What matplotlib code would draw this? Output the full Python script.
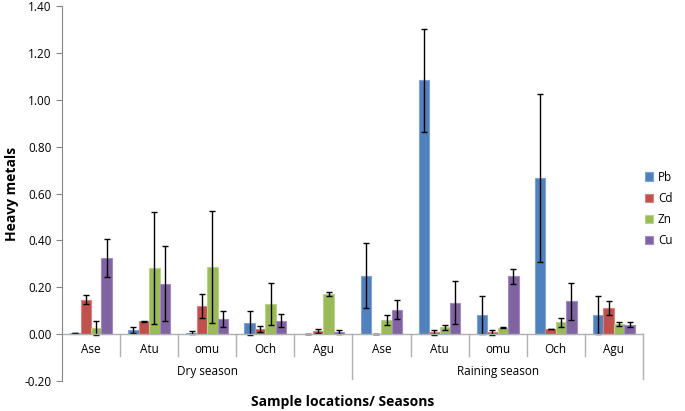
import numpy as np
import matplotlib
matplotlib.use("Agg")
import matplotlib.pyplot as plt

plt.rcParams['font.family'] = ['Open Sans', 'DejaVu Sans']

#==============================================
sites = ['Ase', 'Atu', 'omu', 'Och', 'Agu']
seasons = ['Dry season', 'Raining season']
metals = ['Pb', 'Cd', 'Zn', 'Cu']
couleurs = ['#4F81BD', '#C0504D', '#9BBB59', '#8064A2']
bords = ['#7FA3D3', '#D98280', '#B9D38A', '#A28BC0']

# valeurs : dry Ase..Agu puis raining Ase..Agu
Pb = [0.003, 0.018, 0.007, 0.047, 0.000, 0.250, 1.083, 0.082, 0.667, 0.082]
Cd = [0.147, 0.055, 0.120, 0.022, 0.013, 0.000, 0.008, 0.008, 0.022, 0.113]
Zn = [0.027, 0.283, 0.287, 0.130, 0.173, 0.062, 0.030, 0.028, 0.050, 0.043]
Cu = [0.325, 0.215, 0.065, 0.057, 0.008, 0.105, 0.135, 0.247, 0.140, 0.040]

err_Pb = [0.000, 0.012, 0.008, 0.050, 0.000, 0.140, 0.220, 0.082, 0.360, 0.082]
err_Cd = [0.018, 0.002, 0.050, 0.011, 0.009, 0.000, 0.010, 0.010, 0.002, 0.030]
err_Zn = [0.030, 0.238, 0.238, 0.090, 0.009, 0.021, 0.011, 0.001, 0.021, 0.010]
err_Cu = [0.080, 0.160, 0.033, 0.028, 0.008, 0.040, 0.093, 0.031, 0.080, 0.010]

valeurs = [Pb, Cd, Zn, Cu]
erreurs = [err_Pb, err_Cd, err_Zn, err_Cu]
#==============================================

fig = plt.figure(figsize=(6.85, 4.11), dpi=100)
ax = fig.add_axes([0.0905, 0.073, 0.848, 0.912])

n = len(Pb)
X = np.arange(n)
w = 0.18
for k in range(4):
    ax.bar(X + (k - 1.5) * w, valeurs[k], w, color=couleurs[k],
           edgecolor=bords[k], linewidth=0.8, label=metals[k],
           yerr=erreurs[k], error_kw=dict(ecolor='black', elinewidth=1,
                                          capsize=2.5, capthick=1))

ax.set_xlim(-0.5, n - 0.5)
ax.set_ylim(-0.2, 1.4)
ax.set_yticks(np.arange(-0.2, 1.41, 0.2))
ax.set_yticklabels(['%.2f' % v for v in np.arange(-0.2, 1.41, 0.2)], fontsize=8.5)
ax.tick_params(axis='y', direction='out', length=4, color='#868686', width=0.8)
ax.spines['left'].set_color('#868686')
ax.spines['top'].set_visible(False)
ax.spines['right'].set_visible(False)
ax.spines['bottom'].set_visible(False)
ax.set_xticks([])

# axe des categories a y = 0 (deux niveaux)
gris = '#B0B0B0'
ax.plot([-0.5, n - 0.5], [0, 0], color=gris, lw=1, clip_on=False)
for i in range(n):
    ax.text(i, -0.065, sites[i % 5], ha='center', va='center', fontsize=8.5)
for i in range(1, n):
    if i % 5 == 0:
        ax.plot([i - 0.5, i - 0.5], [0, -0.19], color=gris, lw=1, clip_on=False)
    else:
        ax.plot([i - 0.5, i - 0.5], [0, -0.094], color=gris, lw=1, clip_on=False)
ax.plot([n - 0.5, n - 0.5], [0, -0.19], color=gris, lw=1, clip_on=False)
for j in range(2):
    ax.text(j * 5 + 2, -0.16, seasons[j], ha='center', va='center', fontsize=8.5)

ax.set_ylabel('Heavy metals', fontsize=10, fontweight='bold', labelpad=4)
fig.text(0.5, 0.022, 'Sample locations/ Seasons', ha='center', va='center',
         fontsize=10, fontweight='bold')

ax.legend(loc='center left', bbox_to_anchor=(0.985, 0.459), frameon=False,
          fontsize=8.5, handlelength=0.7, handleheight=0.7, labelspacing=0.7,
          handletextpad=0.4)

plt.savefig('out.png', dpi=100)
